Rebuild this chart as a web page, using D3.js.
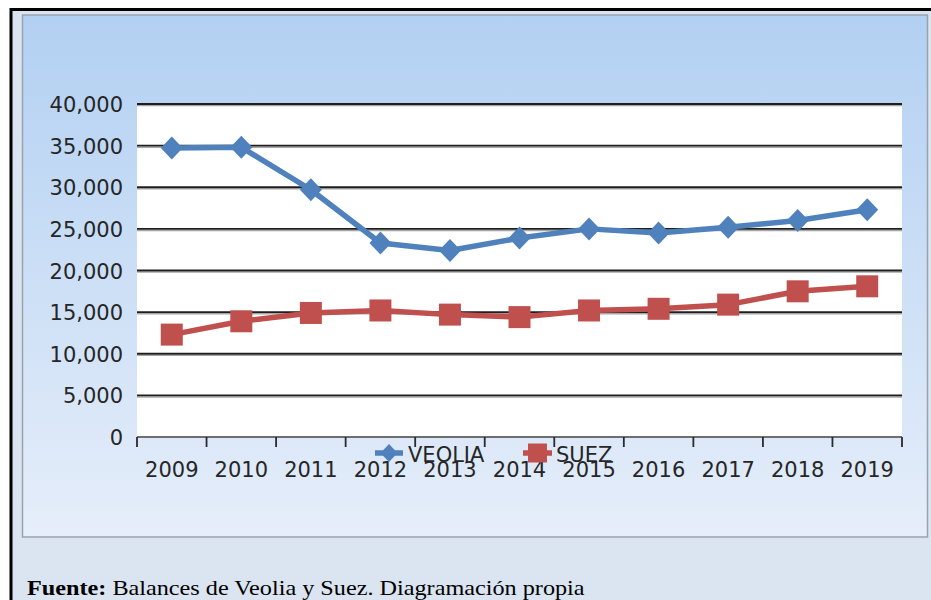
<!DOCTYPE html>
<html>
<head>
<meta charset="utf-8">
<script src="https://cdn.jsdelivr.net/npm/d3@7"></script>
<style>
  html, body { margin: 0; padding: 0; background: #ffffff; }
  svg { display: block; }
</style>
</head>
<body>
<svg id="chart" width="931" height="600"></svg>
<script>
const years = ['2009','2010','2011','2012','2013','2014','2015','2016','2017','2018','2019'];
const veolia = [34700, 34800, 29700, 23300, 22400, 23900, 25000, 24500, 25200, 26000, 27300];
const suez = [12300, 13900, 14900, 15200, 14700, 14400, 15200, 15400, 15900, 17500, 18100];
const yTicks = [0, 5000, 10000, 15000, 20000, 25000, 30000, 35000, 40000];
const seriesNames = ['VEOLIA', 'SUEZ'];
const seriesColors = ['#4f81bd', '#c0504d'];
const sourceBold = 'Fuente:';
const sourceText = ' Balances de Veolia y Suez. Diagramación propia';

const svg = d3.select('#chart');
const W = 931, H = 600;
const plot = {left: 137, right: 902, top: 104, bottom: 437};
const labelFont = 'DejaVu Sans, sans-serif';
const textColor = '#262626';

// defs
const defs = svg.append('defs');
const grad = defs.append('linearGradient').attr('id', 'panelGrad')
  .attr('x1', 0).attr('y1', 0).attr('x2', 0).attr('y2', 1);
grad.append('stop').attr('offset', '0%').attr('stop-color', '#b2d0f2');
grad.append('stop').attr('offset', '100%').attr('stop-color', '#e6eefa');

// outer background and black border
svg.append('rect').attr('x', 11).attr('y', 9).attr('width', W - 11).attr('height', H - 9)
  .attr('fill', '#dbe5f1');
svg.append('line').attr('x1', 11).attr('x2', W).attr('y1', 9.5).attr('y2', 9.5)
  .attr('stroke', '#000').attr('stroke-width', 3);
svg.append('line').attr('x1', 11).attr('x2', 11).attr('y1', 8).attr('y2', H)
  .attr('stroke', '#000').attr('stroke-width', 3);

// chart panel
svg.append('rect').attr('x', 22.5).attr('y', 15).attr('width', 905).attr('height', 522)
  .attr('fill', 'url(#panelGrad)').attr('stroke', '#9aa3ad').attr('stroke-width', 1.5);

// plot area
svg.append('rect').attr('x', plot.left).attr('y', plot.top)
  .attr('width', plot.right - plot.left).attr('height', plot.bottom - plot.top)
  .attr('fill', '#ffffff');

const x = d3.scaleBand().domain(years).range([plot.left, plot.right]);
const y = d3.scaleLinear().domain([0, 40000]).range([plot.bottom, plot.top]);
const cx = d => x(d) + x.bandwidth() / 2;

// gridlines with shadow
const gridTicks = yTicks.filter(v => v > 0);
svg.append('g').selectAll('line').data(gridTicks).join('line')
  .attr('x1', plot.left).attr('x2', plot.right)
  .attr('y1', d => y(d) + 1.6).attr('y2', d => y(d) + 1.6)
  .attr('stroke', '#a6a6a6').attr('stroke-width', 1.3);
svg.append('g').selectAll('line').data(gridTicks).join('line')
  .attr('x1', plot.left).attr('x2', plot.right)
  .attr('y1', d => y(d)).attr('y2', d => y(d))
  .attr('stroke', '#1e1e1e').attr('stroke-width', 1.8);

// y axis labels
const yAxis = d3.axisLeft(y).tickValues(yTicks).tickSize(0).tickPadding(14)
  .tickFormat(d3.format(','));
const gy = svg.append('g').attr('transform', `translate(${plot.left},0)`).call(yAxis);
gy.select('.domain').remove();
gy.selectAll('text').attr('font-family', labelFont).attr('font-size', 21)
  .attr('fill', textColor).attr('dy', '0.36em');

// x axis
const gx = svg.append('g').attr('transform', `translate(0,${plot.bottom})`);
gx.append('line').attr('x1', plot.left).attr('x2', plot.right).attr('y1', 0).attr('y2', 0)
  .attr('stroke', '#6e6e6e').attr('stroke-width', 2);
const boundaries = d3.range(years.length + 1).map(i => plot.left + i * x.step());
gx.selectAll('line.tick').data(boundaries).join('line').attr('class', 'tick')
  .attr('x1', d => d).attr('x2', d => d).attr('y1', 0).attr('y2', 10)
  .attr('stroke', '#2a2a2a').attr('stroke-width', 1.8);
const xAxis = d3.axisBottom(x).tickSize(0).tickPadding(0);
const gxl = gx.append('g').call(xAxis);
gxl.select('.domain').remove();
gxl.selectAll('text').attr('y', 40).attr('dy', null)
  .attr('font-family', labelFont).attr('font-size', 21).attr('fill', textColor);

// markers
const diamondPath = (hw, hh) => `M0,${-hh}L${hw},0L0,${hh}L${-hw},0Z`;

// lines
const line = d3.line().x((d, i) => cx(years[i])).y(d => y(d));
[veolia, suez].forEach((s, k) => {
  svg.append('path').datum(s).attr('d', line).attr('fill', 'none')
    .attr('stroke', seriesColors[k]).attr('stroke-width', 5.5)
    .attr('stroke-linejoin', 'round');
});
svg.append('g').selectAll('path').data(veolia).join('path')
  .attr('d', diamondPath(11, 11.5))
  .attr('transform', (d, i) => `translate(${cx(years[i])},${y(d)})`)
  .attr('fill', seriesColors[0]);
svg.append('g').selectAll('rect').data(suez).join('rect')
  .attr('x', (d, i) => cx(years[i]) - 11).attr('y', d => y(d) - 11)
  .attr('width', 22).attr('height', 22)
  .attr('fill', seriesColors[1]);

// legend
const leg = svg.append('g');
// VEOLIA
leg.append('line').attr('x1', 375).attr('x2', 403).attr('y1', 453).attr('y2', 453)
  .attr('stroke', seriesColors[0]).attr('stroke-width', 5.5);
leg.append('path').attr('d', diamondPath(8.5, 9)).attr('transform', 'translate(389,453)')
  .attr('fill', seriesColors[0]);
leg.append('text').attr('x', 408).attr('y', 462).text(seriesNames[0])
  .attr('font-family', labelFont).attr('font-size', 21).attr('fill', textColor);
// SUEZ
leg.append('line').attr('x1', 523).attr('x2', 552).attr('y1', 453).attr('y2', 453)
  .attr('stroke', seriesColors[1]).attr('stroke-width', 5.5);
leg.append('rect').attr('x', 528).attr('y', 443.5).attr('width', 19).attr('height', 19)
  .attr('fill', seriesColors[1]);
leg.append('text').attr('x', 556).attr('y', 462).text(seriesNames[1])
  .attr('font-family', labelFont).attr('font-size', 21).attr('fill', textColor);

// source note
const src = svg.append('text').attr('transform', 'translate(27,595)')
  .attr('font-family', 'Liberation Serif, Times New Roman, serif').attr('font-size', 22)
  .attr('fill', '#000');
src.append('tspan').attr('font-weight', 'bold').text(sourceBold);
src.append('tspan').text(sourceText);
const w = src.node().getComputedTextLength();
src.attr('transform', `translate(27,595) scale(${558 / w},1)`);
</script>
</body>
</html>
